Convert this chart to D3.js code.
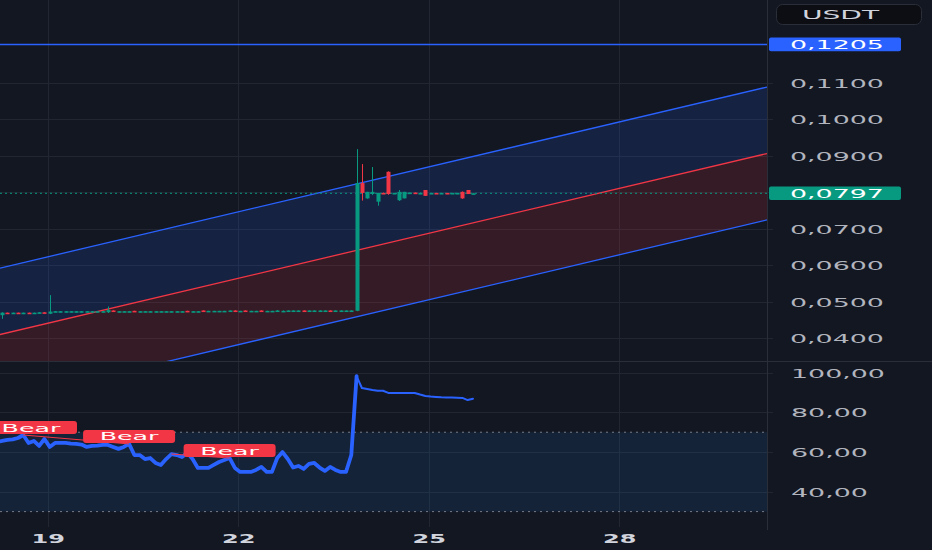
<!DOCTYPE html>
<html><head><meta charset="utf-8">
<script src="https://cdn.jsdelivr.net/npm/d3@7"></script>
<style>html,body{margin:0;padding:0;background:#131722;overflow:hidden}</style>
</head><body>
<svg id="chart" width="932" height="550"></svg>
<script>
// ---------- DATA ----------
const startDay = 18.197;      // day-of-month of first 2h candle
const stepDay = 1 / 12;       // 2-hour candles
const opens = [
.0469,.0463,.0470,.0469,.0470,.0467,.0470,.0469,.0470,.0471,
.0467,.0472,.0473,.0473,.0474,.0473,.0474,.0473,.0474,.0473,
.0474,.0471,.0476,.0473,.0474,.0473,.0475,.0473,.0474,.0473,
.0474,.0473,.0474,.0473,.0474,.0473,.0475,.0473,.0474,.0476,
.0474,.0474,.0474,.0474,.0473,.0476,.0474,.0476,.0474,.0474,
.0476,.0474,.0474,.0473,.0475,.0475,.0475,.0475,.0476,.0475,
.0475,.0475,.0475,.0476,.0475,.0475,.0475,.0475,
.0475,.0825,.0783,.0795,.0774,.0798,.0856,.0796,.0778,.0783,
.0798,.0799,.0798,.0806,.0797,.0798,.0797,.0798,.0797,.0798,
.0801,.0806,.0797];
const highs = [
.0470,.0471,.0470,.0470,.0470,.0470,.0470,.0470,.0471,.0471,
.0518,.0474,.0474,.0474,.0474,.0474,.0474,.0474,.0474,.0474,
.0474,.0487,.0476,.0474,.0474,.0474,.0475,.0474,.0474,.0474,
.0474,.0474,.0474,.0474,.0474,.0474,.0475,.0474,.0474,.0476,
.0475,.0475,.0475,.0475,.0476,.0476,.0475,.0476,.0475,.0475,
.0476,.0475,.0475,.0477,.0476,.0476,.0476,.0476,.0476,.0476,
.0476,.0476,.0476,.0476,.0476,.0476,.0476,.0476,
.0918,.0877,.0801,.0869,.0798,.0799,.0857,.0798,.0806,.0801,
.0799,.0799,.0799,.0806,.0798,.0798,.0798,.0798,.0798,.0798,
.0802,.0806,.0797];
const lows = [
.0467,.0453,.0468,.0469,.0469,.0466,.0469,.0468,.0469,.0470,
.0466,.0472,.0473,.0473,.0474,.0473,.0474,.0473,.0474,.0473,
.0473,.0469,.0474,.0473,.0474,.0473,.0473,.0473,.0474,.0473,
.0474,.0473,.0474,.0473,.0474,.0473,.0473,.0473,.0474,.0474,
.0474,.0474,.0474,.0474,.0473,.0474,.0474,.0474,.0474,.0474,
.0474,.0474,.0474,.0473,.0475,.0475,.0475,.0475,.0475,.0475,
.0475,.0475,.0475,.0475,.0475,.0475,.0475,.0474,
.0474,.0777,.0782,.0792,.0763,.0795,.0793,.0796,.0776,.0783,
.0797,.0797,.0797,.0790,.0797,.0797,.0797,.0797,.0797,.0797,
.0782,.0795,.0797];
const closes = [
.0468,.0470,.0469,.0470,.0469,.0470,.0469,.0470,.0471,.0470,
.0473,.0474,.0474,.0474,.0474,.0474,.0474,.0474,.0474,.0474,
.0474,.0477,.0474,.0474,.0474,.0474,.0473,.0474,.0474,.0474,
.0474,.0474,.0474,.0474,.0474,.0474,.0473,.0474,.0474,.0474,
.0475,.0475,.0475,.0475,.0476,.0474,.0475,.0474,.0475,.0475,
.0474,.0475,.0475,.0476,.0475,.0476,.0476,.0476,.0475,.0476,
.0476,.0476,.0476,.0475,.0476,.0476,.0476,.0476,
.0825,.0798,.0801,.0801,.0798,.0796,.0795,.0798,.0801,.0801,
.0799,.0798,.0798,.0790,.0798,.0797,.0798,.0797,.0798,.0798,
.0783,.0795,.0797];
const rsi = [
65.1,65.6,66.1,66.4,67.1,68.6,64.6,65.6,63.1,66.6,
62.6,64.6,64.6,64.6,64.3,64.1,63.8,62.6,63.1,63.3,
63.6,63.6,62.6,61.6,62.6,64.1,58.5,58.5,56.5,57.0,
54.5,53.5,56.5,59.0,58.5,57.5,59.6,56.5,52.0,52.0,
52.0,53.5,55.0,56.0,57.0,52.0,50.0,50.0,50.0,51.0,
52.5,50.0,50.0,57.0,60.0,56.5,52.2,53.0,51.5,54.0,
54.5,52.2,50.5,52.5,51.0,50.0,50.0,58.5,98.3,92.3,
91.8,91.3,90.9,90.9,89.8,89.8,89.8,89.8,89.8,89.8,
89.0,88.3,88.0,87.8,87.6,87.5,87.5,87.4,87.3,86.2,
86.9];
const priceTicks = [0.04,0.05,0.06,0.07,0.09,0.10,0.11];
const gridPrices = [0.04,0.05,0.06,0.07,0.08,0.09,0.10,0.11];
const rsiTicks = [40,60,80,100];
const dayTicks = [19,22,25,28];
const channelDays = [18.247, 30.328];
const channelUpper = [0.0592, 0.1088];
const channelMid = [0.0410, 0.0906];
const channelLower = [0.0228, 0.0724];
const levelPrice = 0.1205;
const lastPrice = 0.0797;
const rsiBand = [30, 70];
const bearLabels = [5, 25, 44];            // candle index of "Bear" pivots
const bearLines = [[5, 25], [33, 44]];     // divergence segments (index pairs)
const currency = "USDT";

// ---------- LAYOUT ----------
const W = 932, H = 550, plotR = 767, mainB = 361, rsiT = 362, rsiB = 530;
const svg = d3.select("#chart");
const FONT = "DejaVu Sans";
const days = opens.map((_, i) => startDay + i * stepDay);

const x = d3.scaleLinear().domain([19, 28]).range([47.8, 619.2]);
const yP = d3.scaleLinear().domain([0.03375, 0.13266]).range([mainB, 0]);
const yR = d3.scaleLinear().domain([30, 100]).range([511.6, 372.7]);
const fmtP = d => d3.format(".4f")(d).replace(".", ",");
const fmtR = d => d3.format(".2f")(d).replace(".", ",");

svg.append("rect").attr("width", W).attr("height", H).attr("fill", "#131722");
const defs = svg.append("defs");
defs.append("clipPath").attr("id", "cMain").append("rect").attr("x", 0).attr("y", 0).attr("width", plotR).attr("height", mainB);
defs.append("clipPath").attr("id", "cRsi").append("rect").attr("x", 0).attr("y", rsiT).attr("width", plotR).attr("height", rsiB - rsiT);

// grid
const grid = svg.append("g").attr("stroke", "#222632").attr("stroke-width", 1);
grid.selectAll(".v").data(dayTicks).join("line")
  .attr("x1", d => Math.round(x(d)) + 0.5).attr("x2", d => Math.round(x(d)) + 0.5)
  .attr("y1", 0).attr("y2", 527);
grid.selectAll(".h").data(gridPrices).join("line")
  .attr("x1", 0).attr("x2", plotR + 6).attr("y1", d => Math.round(yP(d)) + 0.5).attr("y2", d => Math.round(yP(d)) + 0.5);
grid.selectAll(".hr").data(rsiTicks).join("line")
  .attr("x1", 0).attr("x2", plotR + 6).attr("y1", d => Math.round(yR(d)) + 0.5).attr("y2", d => Math.round(yR(d)) + 0.5);

// ---------- MAIN PANE ----------
const main = svg.append("g").attr("clip-path", "url(#cMain)");
const chPts = (arr) => channelDays.map((d, i) => [x(d), yP(arr[i])]);
const up = chPts(channelUpper), mid = chPts(channelMid), lo = chPts(channelLower);
const poly = (a, b) => [...a, ...b.slice().reverse()].map(p => p.join(",")).join(" ");
main.append("polygon").attr("points", poly(up, mid)).attr("fill", "rgba(41,98,255,0.15)");
main.append("polygon").attr("points", poly(mid, lo)).attr("fill", "rgba(242,54,69,0.15)");
const ln = d3.line();
main.append("path").attr("d", ln(up)).attr("stroke", "#2962ff").attr("stroke-width", 1.3).attr("fill", "none");
main.append("path").attr("d", ln(lo)).attr("stroke", "#2962ff").attr("stroke-width", 1.3).attr("fill", "none");
main.append("path").attr("d", ln(mid)).attr("stroke", "#f23645").attr("stroke-width", 1.3).attr("fill", "none");

main.append("line").attr("x1", 0).attr("x2", plotR).attr("y1", yP(levelPrice)).attr("y2", yP(levelPrice))
  .attr("stroke", "#2962ff").attr("stroke-width", 1.5);
main.append("line").attr("x1", 0).attr("x2", plotR).attr("y1", yP(lastPrice)).attr("y2", yP(lastPrice))
  .attr("stroke", "#089981").attr("stroke-width", 1).attr("stroke-dasharray", "2,3");

const candles = main.append("g");
const bw = 4;
opens.forEach((o, i) => {
  const c = closes[i], col = c >= o ? "#089981" : "#f23645";
  const cx = Math.round(x(days[i]));
  candles.append("rect").attr("x", cx).attr("width", 1)
    .attr("y", yP(highs[i])).attr("height", Math.max(1, yP(lows[i]) - yP(highs[i]))).attr("fill", col);
  const top = yP(Math.max(o, c)), bot = yP(Math.min(o, c));
  candles.append("rect").attr("x", cx - 1.5).attr("width", bw)
    .attr("y", top).attr("height", Math.max(1.6, bot - top)).attr("fill", col);
});

// ---------- RSI PANE ----------
const rp = svg.append("g").attr("clip-path", "url(#cRsi)");
rp.append("rect").attr("x", 0).attr("width", plotR).attr("y", yR(rsiBand[1])).attr("height", yR(rsiBand[0]) - yR(rsiBand[1]))
  .attr("fill", "rgba(33,150,243,0.1)");
rp.selectAll(".bl").data(rsiBand).join("line").attr("x1", 0).attr("x2", plotR)
  .attr("y1", d => yR(d)).attr("y2", d => yR(d)).attr("stroke", "#787b86").attr("stroke-width", 1).attr("stroke-dasharray", "2,4");
const rl = d3.line().x(d => x(days[d])).y(d => yR(rsi[d]));
const idx = rsi.map((_, i) => i);
rp.append("path").attr("d", rl(idx.slice(0, 69))).attr("fill", "none").attr("stroke", "#2962ff")
  .attr("stroke-width", 3.8).attr("stroke-linejoin", "round").attr("stroke-linecap", "round");
rp.append("path").attr("d", rl(idx.slice(68))).attr("fill", "none").attr("stroke", "#2962ff")
  .attr("stroke-width", 2).attr("stroke-linejoin", "round").attr("stroke-linecap", "round");
bearLines.forEach(([a, b]) => {
  rp.append("line").attr("x1", x(days[a])).attr("y1", yR(rsi[a])).attr("x2", x(days[b])).attr("y2", yR(rsi[b]))
    .attr("stroke", "#f23645").attr("stroke-width", 1);
});
bearLabels.forEach(i => {
  const cx = Math.max(x(days[i]), 31), by = yR(rsi[i]) - 1;
  rp.append("rect").attr("x", cx - 46).attr("y", by - 13).attr("width", 92).attr("height", 13).attr("rx", 3).attr("fill", "#f23645");
  rp.append("text").attr("transform", `translate(${cx},${by - 2.5}) scale(2.3,1)`).attr("text-anchor", "middle")
    .attr("fill", "#ffffff").style("font-family", FONT).style("font-size", "11px").text("Bear");
});

// ---------- SEPARATORS ----------
svg.append("line").attr("x1", 0).attr("x2", W).attr("y1", 361.5).attr("y2", 361.5).attr("stroke", "#2a2e39").attr("stroke-width", 1);
svg.append("line").attr("x1", plotR + 0.5).attr("x2", plotR + 0.5).attr("y1", 0).attr("y2", rsiB).attr("stroke", "#2a2e39").attr("stroke-width", 1);

// ---------- AXES ----------
const pAx = svg.append("g").attr("transform", `translate(${plotR},0)`)
  .call(d3.axisRight(yP).tickValues(priceTicks).tickFormat(fmtP).tickSize(0));
pAx.select(".domain").remove();
pAx.selectAll("text").attr("x", 0).attr("dy", null).attr("text-anchor", "start")
  .attr("transform", "translate(23,4.5) scale(2.15,1)").attr("fill", "#b2b5be")
  .style("font-family", FONT).style("font-size", "12.5px");

const rAx = svg.append("g").attr("transform", `translate(${plotR},0)`)
  .call(d3.axisRight(yR).tickValues(rsiTicks).tickFormat(fmtR).tickSize(0));
rAx.select(".domain").remove();
rAx.selectAll("text").attr("x", 0).attr("dy", null).attr("text-anchor", "start")
  .attr("transform", "translate(24,4.5) scale(2.15,1)").attr("fill", "#b2b5be")
  .style("font-family", FONT).style("font-size", "12.5px");

const tAx = svg.append("g").attr("transform", "translate(0,527)")
  .call(d3.axisBottom(x).tickValues(dayTicks).tickFormat(d3.format("d")).tickSize(0));
tAx.select(".domain").remove();
tAx.selectAll("text").attr("y", 0).attr("dy", null)
  .attr("transform", "translate(0,16) scale(2,1)").attr("fill", "#d1d4dc")
  .style("font-family", FONT).style("font-size", "12px").style("font-weight", "bold");

// price badges
function badge(price, color) {
  const yy = yP(price);
  svg.append("rect").attr("x", 769).attr("y", yy - 6.8).attr("width", 132).attr("height", 13.6).attr("rx", 2).attr("fill", color);
  svg.append("text").attr("transform", `translate(790,${yy + 4.5}) scale(2.15,1)`).attr("fill", "#ffffff")
    .style("font-family", FONT).style("font-size", "12.5px").text(fmtP(price));
}
badge(levelPrice, "#2962ff");
badge(lastPrice, "#089981");

// currency box
svg.append("rect").attr("x", 776.5).attr("y", 4.5).attr("width", 145).attr("height", 20).attr("rx", 6)
  .attr("fill", "#0c0e14").attr("stroke", "#2a2e39");
svg.append("text").attr("transform", "translate(840.5,19) scale(2.25,1)").attr("text-anchor", "middle")
  .attr("fill", "#d1d4dc").style("font-family", FONT).style("font-size", "12.5px").text(currency);
</script>
</body></html>
